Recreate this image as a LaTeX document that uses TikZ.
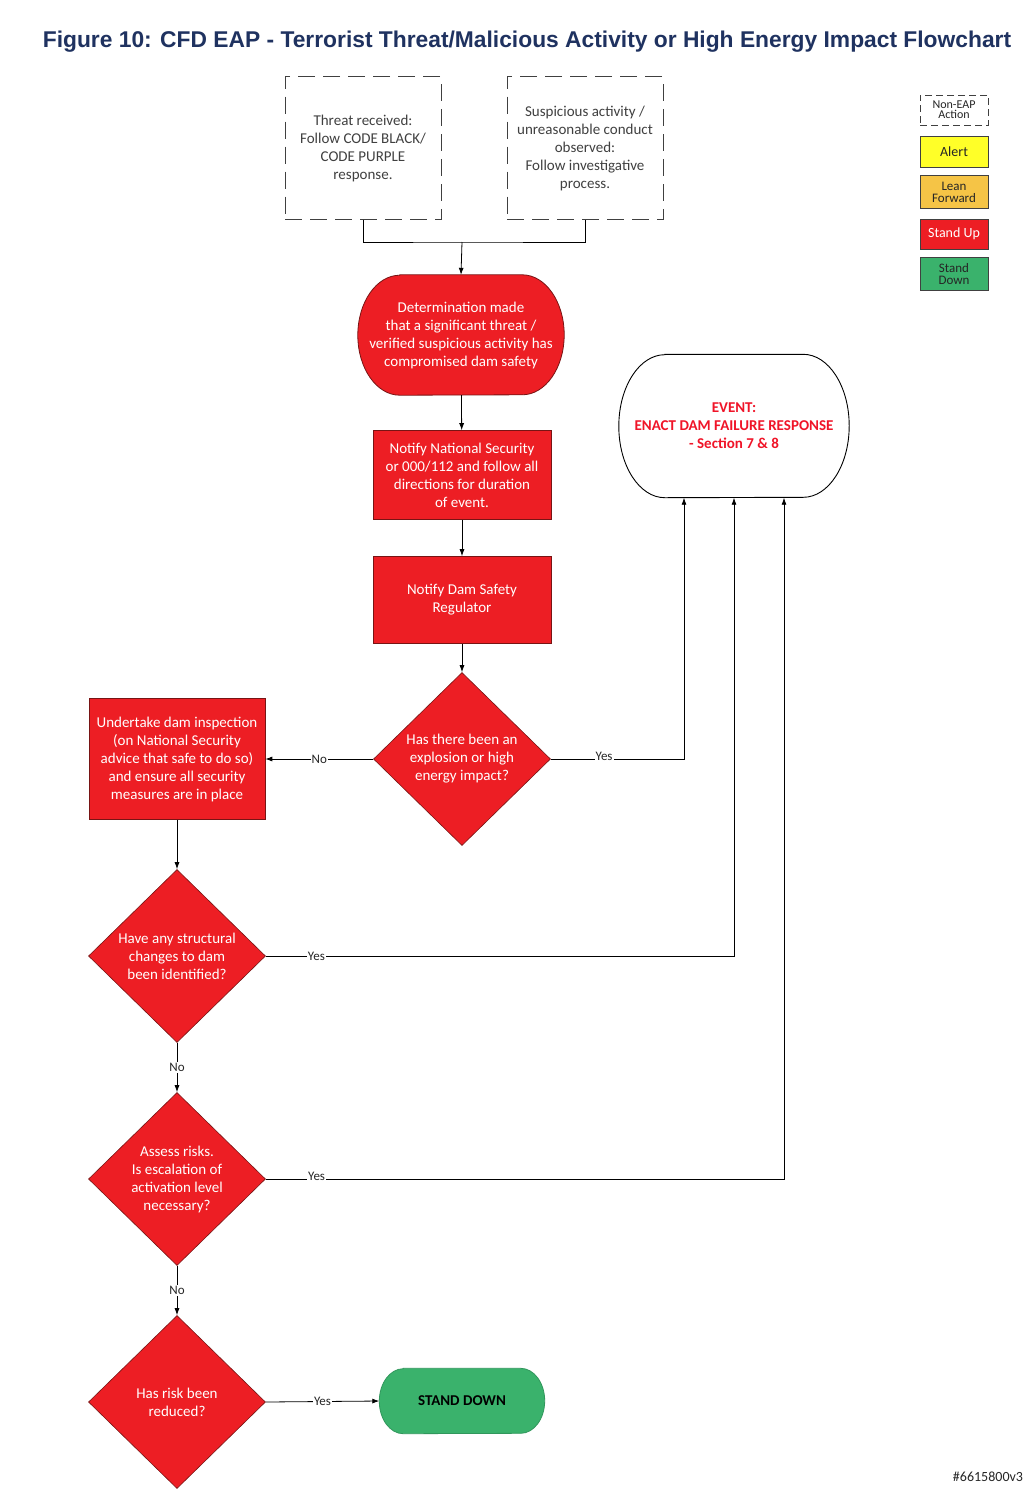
\documentclass[tikz,border=0pt]{standalone}
\usepackage{fontspec}
\setmainfont{Carlito}
\newfontfamily\titlefont{Liberation Sans}
\usetikzlibrary{shapes.geometric,arrows.meta}
\definecolor{eapred}{RGB}{237,30,36}
\definecolor{eapborder}{RGB}{120,20,20}
\definecolor{eapgreen}{RGB}{58,178,108}
\definecolor{eapyellow}{RGB}{255,255,40}
\definecolor{eaplean}{RGB}{245,196,70}
\definecolor{titleblue}{RGB}{31,50,96}
\definecolor{eventred}{RGB}{240,20,40}
\pgfdeclarelayer{bg}
\pgfsetlayers{bg,main}
% oval outline: node name, x radius, y radius, path options
\newcommand\eapoval[4]{%
  \path[#4] ([xshift=#2]#1.north west) -- ([xshift=-#2]#1.north east)
    arc[start angle=90, end angle=0, x radius=#2, y radius=#3]
    arc[start angle=0, end angle=-90, x radius=#2, y radius=#3]
    -- ([xshift=#2]#1.south west)
    arc[start angle=270, end angle=180, x radius=#2, y radius=#3]
    arc[start angle=180, end angle=90, x radius=#2, y radius=#3] -- cycle;}
\begin{document}
\begin{tikzpicture}[x=1pt,y=-1pt,
  txt/.style={font=\fontsize{15}{18}\selectfont, align=center},
  dbox/.style={txt, draw=black!75, line width=0.9pt, dash pattern=on 17pt off 8pt, minimum width=156pt, minimum height=143pt, text=black!75},
  redbox/.style={txt, draw=eapborder, line width=0.6pt, fill=eapred, text=white, minimum width=178pt},
  oval/.style={txt, rectangle, inner sep=0pt},
  dec/.style={txt, diamond, draw=eapborder, line width=0.6pt, fill=eapred, text=white, minimum width=177pt, minimum height=173pt, inner sep=0pt},
  conn/.style={draw=black, line width=0.8pt},
  arr/.style={conn, -{Latex[length=7pt,width=5pt]}},
  lbl/.style={font=\fontsize{13}{15}\selectfont, fill=white, inner sep=1pt, text=black!85},
  leg/.style={draw=black!75, line width=0.8pt, minimum width=68pt, align=center, inner sep=0pt, font=\fontsize{14}{12}\selectfont, text=black!85}
]
\useasboundingbox (0,0) rectangle (1036,1505);
\begin{pgfonlayer}{bg}
  \fill[white] (0,0) rectangle (1036,1505);
\end{pgfonlayer}

% title
\node[font=\titlefont\bfseries\fontsize{22.8}{26}\selectfont, text=titleblue] (title) at (527,42)
  {Figure 10: CFD EAP - Terrorist Threat/Malicious Activity or High Energy Impact Flowchart};

% top dashed boxes
\node[dbox] (b1) at (363,148) {Threat received:\\Follow CODE BLACK/\\CODE PURPLE\\response.};
\node[dbox] (b2) at (585,148) {Suspicious activity /\\unreasonable conduct\\observed:\\Follow investigative\\process.};
\coordinate (j) at (462,242);

% main column
\node[oval, text=white, minimum width=206pt, minimum height=120pt] (det) at (461,335)
  {Determination made\\that a significant threat /\\verified suspicious activity has\\compromised dam safety};
\node[redbox, minimum height=89pt] (ns) at (462,475)
  {Notify National Security\\or 000/112 and follow all\\directions for duration\\of event.};
\node[redbox, minimum height=87pt] (dsr) at (462,600) {Notify Dam Safety\\Regulator};
\node[dec] (d1) at (462,759) {Has there been an\\explosion or high\\energy impact?};

% event
\node[oval, text=eventred, font=\bfseries\fontsize{15}{18}\selectfont, minimum width=230pt, minimum height=143pt] (ev) at (734,426)
  {EVENT:\\ENACT DAM FAILURE RESPONSE\\- Section 7 \& 8};

% left column
\node[redbox, minimum width=176pt, minimum height=121pt] (ud) at (177,759)
  {Undertake dam inspection\\(on National Security\\advice that safe to do so)\\and ensure all security\\measures are in place};
\node[dec] (d2) at (177,956) {Have any structural\\changes to dam\\been identified?};
\node[dec] (d3) at (177,1179) {Assess risks.\\Is escalation of\\activation level\\necessary?};
\node[dec] (d4) at (177,1402) {Has risk been\\reduced?};
\node[oval, text=black, font=\bfseries\fontsize{15}{18}\selectfont, minimum width=165pt, minimum height=65pt] (sd) at (462,1401) {STAND DOWN};

\begin{pgfonlayer}{bg}
  \eapoval{det}{42pt}{60pt}{draw=eapborder, line width=0.8pt, fill=eapred}
  \eapoval{ev}{46pt}{71.5pt}{draw=black, line width=0.9pt, fill=white}
  \eapoval{sd}{24pt}{32.5pt}{draw=eapgreen!85!black, line width=0.8pt, fill=eapgreen}
\end{pgfonlayer}

% connectors
\draw[conn] (b1.south) |- (j) -| (b2.south);
\draw[arr] (j) -- (det.north);
\draw[arr] (det) -- (ns);
\draw[arr] (ns) -- (dsr);
\draw[arr] (dsr) -- (d1);
\draw[arr] (d1.west) -- node[lbl]{No} (ud.east);
\draw[arr] (d1.east) -| node[lbl, pos=0.2, yshift=3pt]{Yes} ([xshift=-50pt]ev.south);
\draw[arr] (ud) -- (d2);
\draw[arr] (d2.east) -| node[lbl, pos=0.054]{Yes} (ev.south);
\draw[arr] (d2.south) -- node[lbl]{No} (d3.north);
\draw[arr] (d3.east) -| node[lbl, pos=0.049, yshift=3pt]{Yes} ([xshift=50pt]ev.south);
\draw[arr] (d3.south) -- node[lbl]{No} (d4.north);
\draw[arr] (d4.east) -- node[lbl]{Yes} (sd.west);

% legend
\node[leg, dash pattern=on 7pt off 4pt, minimum height=30pt, font=\fontsize{12}{10}\selectfont] (l1) at (954,110) {Non-EAP\\Action};
\node[leg, fill=eapyellow, minimum height=31pt] (l2) at (954,152) {Alert};
\node[leg, fill=eaplean, minimum height=33pt, font=\fontsize{13}{12}\selectfont] (l3) at (954,192) {Lean\\Forward};
\node[leg, fill=eapred, text=white, minimum height=30pt] (l4) at (954,234) {Stand Up};
\node[leg, fill=eapgreen, minimum height=33pt, font=\fontsize{13}{12}\selectfont] (l5) at (954,274) {Stand\\Down};

% footnote
\node[font=\fontsize{14}{16}\selectfont, text=black!85] (fn) at (988,1477) {\#6615800v3};
\end{tikzpicture}
\end{document}
